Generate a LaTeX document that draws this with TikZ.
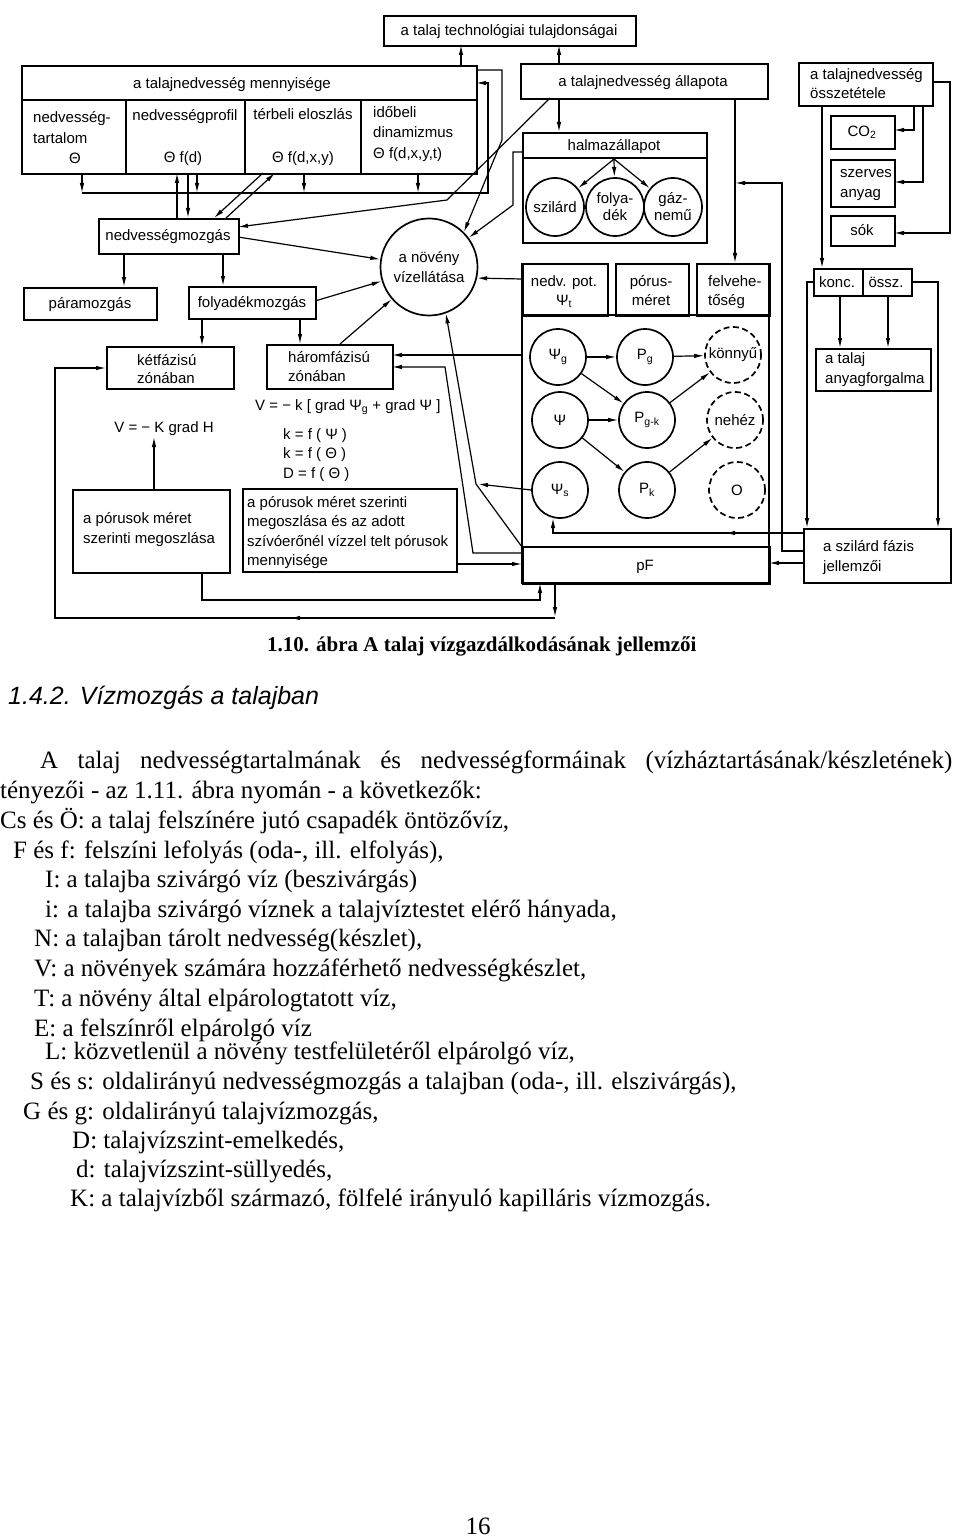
\documentclass[tikz,border=0pt]{standalone}
\usepackage{fontspec}
\setmainfont{Liberation Serif}
\newfontfamily\diagfont{Liberation Sans}
\usetikzlibrary{arrows.meta}
\newcommand\mybox[5]{\node[box, anchor=north west, minimum width={#4pt-#2pt}, minimum height={#5pt-#3pt}] (#1) at (#2,#3) {};}
\tikzset{
 box/.style={draw, line width=1.9pt, inner sep=0pt},
 bline/.style={line width=1.9pt},
 conn/.style={line width=1.2pt},
 arr/.style={conn, -{Latex[length=10pt,width=4.5pt]}},
 circ/.style={draw, circle, line width=1.7pt, inner sep=0pt, align=center, font=\diagfont\fontsize{15}{17}\selectfont},
 dcirc/.style={circ, dash pattern=on 6pt off 3.5pt},
 dt/.style={font=\diagfont\fontsize{15}{19}\selectfont, inner sep=0pt, anchor=mid, yshift=-3pt},
 dtl/.style={dt, anchor=mid west},
 bt/.style={font=\fontsize{25}{30}\selectfont, inner sep=0pt, anchor=mid west, yshift=-5pt},
}
\begin{document}
\begin{tikzpicture}[x=1pt,y=-1pt]
\useasboundingbox (0,0) rectangle (960,1538);
\fill[white] (0,0) rectangle (960,1538);

% ---------- boxes ----------
\mybox{tech}{383}{15}{635}{45}
\node[dt] (ttech) at (509,30) {a talaj technológiai tulajdonságai};

\mybox{menny}{21}{65}{476}{173}
\draw[bline] (21,100) -- (476,100) (126,100) -- (126,173) (245,100) -- (245,173) (361,100) -- (361,173);
\node[dt] (tmenny) at (232,83) {a talajnedvesség mennyisége};
\node[dtl] (tc1a) at (33,117) {nedvesség-};
\node[dtl] (tc1b) at (33,138) {tartalom};
\node[dt] (tc1c) at (75,158) {Θ};
\node[dt] (tc2a) at (185,115) {nedvességprofil};
\node[dt] (tc2b) at (183,157) {Θ f(d)};
\node[dt] (tc3a) at (303,114) {térbeli eloszlás};
\node[dt] (tc3b) at (303,157) {Θ f(d,x,y)};
\node[dtl] (tc4a) at (373,112) {időbeli};
\node[dtl] (tc4b) at (373,132) {dinamizmus};
\node[dtl] (tc4c) at (373,153) {Θ f(d,x,y,t)};

\mybox{allap}{520}{63}{767}{98}
\node[dt] (tallap) at (643,81) {a talajnedvesség állapota};

\mybox{halm}{522}{132}{706}{242}
\draw[bline] (522,158) -- (706,158);
\node[dt] (thalm) at (614,145) {halmazállapot};
\node[circ, minimum size=58pt] (szil) at (555,207) {szilárd};
\node[circ, minimum size=58pt] (foly) at (615,207) {folya-\\dék};
\node[circ, minimum size=58pt] (gaz) at (673,207) {gáz-\\nemű};

\mybox{ossz}{798}{62}{932}{105}
\node[dtl] (tossza) at (810,74) {a talajnedvesség};
\node[dtl] (tosszb) at (810,93) {összetétele};
\mybox{co2}{830}{115}{894}{148}
\node[dt] (tco2) at (862,131) {CO\textsubscript{2}};
\mybox{szerv}{830}{159}{894}{206}
\node[dtl] (tszerva) at (840,172) {szerves};
\node[dtl] (tszervb) at (840,192) {anyag};
\mybox{sok}{830}{215}{894}{245}
\node[dt] (tsok) at (862,230) {sók};

\mybox{nedvm}{98}{218}{238}{253}
\node[dt] (tnedvm) at (168,235) {nedvességmozgás};
\mybox{param}{23}{287}{156}{319}
\node[dt] (tparam) at (90,303) {páramozgás};
\mybox{folym}{188}{286}{315}{318}
\node[dt] (tfolym) at (252,302) {folyadékmozgás};
\mybox{ketf}{106}{346}{233}{388}
\node[dtl] (tketfa) at (137,360) {kétfázisú};
\node[dtl] (tketfb) at (137,378) {zónában};
\mybox{harom}{266}{344}{392}{388}
\node[dtl] (tharoma) at (288,357) {háromfázisú};
\node[dtl] (tharomb) at (288,376) {zónában};

\node[circ, minimum size=97pt, font=\diagfont\fontsize{15}{20}\selectfont] (noveny) at (429,267) {a növény\\vízellátása};

% big lower box
\draw[bline] (522,263) -- (522,583) -- (769,583) -- (769,263);
\draw[bline] (522,315) -- (769,315);
\mybox{nedvpot}{522}{263}{607}{315}
\node[dt] (tnedvpota) at (564,281) {nedv. pot.};
\node[dt] (tnedvpotb) at (564,300) {Ψ\textsubscript{t}};
\mybox{porus}{615}{263}{688}{315}
\node[dt] (tporusa) at (651,281) {pórus-};
\node[dt] (tporusb) at (651,300) {méret};
\mybox{felv}{696}{263}{769}{315}
\node[dtl] (tfelva) at (708,281) {felvehe-};
\node[dtl] (tfelvb) at (708,300) {tőség};
\mybox{pF}{522}{546}{769}{583}
\node[dt] (tpF) at (645,565) {pF};

\node[circ, minimum size=56pt] (psig) at (558,357) {Ψ\textsubscript{g}};
\node[circ, minimum size=56pt] (pg) at (645,357) {P\textsubscript{g}};
\node[dcirc, minimum size=56pt] (konnyu) at (733,355) {könnyű};
\node[circ, minimum size=56pt] (psi) at (560,420) {Ψ};
\node[circ, minimum size=56pt] (pgk) at (647,420) {P\textsubscript{g-k}};
\node[dcirc, minimum size=56pt] (nehez) at (735,420) {nehéz};
\node[circ, minimum size=56pt] (psis) at (560,490) {Ψ\textsubscript{s}};
\node[circ, minimum size=56pt] (pk) at (647,490) {P\textsubscript{k}};
\node[dcirc, minimum size=56pt] (oo) at (737,490) {O};

\mybox{konc}{813}{268}{862}{295}
\node[dt] (tkonc) at (837,282) {konc.};
\mybox{ossz2}{862}{268}{911}{295}
\node[dt] (tossz2) at (886,282) {össz.};
\mybox{anyag}{815}{348}{930}{390}
\node[dtl] (tanyaga) at (825,358) {a talaj};
\node[dtl] (tanyagb) at (825,378) {anyagforgalma};
\mybox{szilf}{803}{528}{950}{582}
\node[dtl] (tszilfa) at (823,546) {a szilárd fázis};
\node[dtl] (tszilfb) at (823,566) {jellemzői};

\mybox{porus1}{72}{489}{229}{572}
\node[dtl] (tp1a) at (83,518) {a pórusok méret};
\node[dtl] (tp1b) at (83,538) {szerinti megoszlása};
\mybox{porus2}{242}{488}{456}{571}
\node[dtl] (tp2a) at (247,502) {a pórusok méret szerinti};
\node[dtl] (tp2b) at (247,521) {megoszlása és az adott};
\node[dtl] (tp2c) at (247,541) {szívóerőnél vízzel telt pórusok};
\node[dtl] (tp2d) at (247,560) {mennyisége};

\node[dt] (tV1) at (164,427) {V = − K grad H};
\node[dtl] (tV2) at (255,405) {V = − k [ grad Ψ\textsubscript{g} + grad Ψ ]};
\node[dtl] (tk1) at (283,434) {k = f ( Ψ )};
\node[dtl] (tk2) at (283,453) {k = f ( Θ )};
\node[dtl] (tD) at (283,473) {D = f ( Θ )};

% ---------- connectors ----------
\draw[arr] (461,65) -- (461,45);
\draw[arr] (559,63) -- (559,45);
\draw[arr] (82,173) -- (82,193);
\draw[arr] (197,173) -- (197,193);
\draw[arr] (304,173) -- (304,193);
\draw[arr] (418,173) -- (418,193);
\draw[arr] (82,193) -- (488,193) -- (488,83) -- (476,83);
\draw[arr] (177,218) -- (177,173);
\draw[arr] (188,173) -- (188,218);
\draw[arr] (263,173) -- (214,218);
\draw[arr] (226,218) -- (275,173);
\draw[arr] (550,98) -- (447,200) -- (238,227);
\draw[arr] (476,70) -- (502,70) -- (502,140) -- (noveny.45);
\draw[arr] (522,152) -- (513,152) -- (513,205) -- (noveny);
\draw[arr] (238,237) -- (noveny);
\draw[arr] (315,301) -- (noveny);
\draw[arr] (340,344) -- (noveny);
\draw[arr] (522,279) -- (noveny.347);
\draw[arr] (522,355) -- (392,355);
\draw[arr] (522,553) -- (473,553) -- (445,367) -- (392,367);
\draw[arr] (522,547) -- (476,484) -- (noveny.290);
\draw[arr] (psis.west) -- (478,484);
\draw[arr] (456,564) -- (522,564);
\draw[arr] (202,572) -- (202,600) -- (540,600) -- (540,583);
\draw[arr] (555,583) -- (555,617);
\draw[arr] (555,618) -- (55,618) -- (55,368) -- (106,368);
\draw[arr] (300,618) -- (290,618);
\draw[arr] (154,489) -- (154,437);
\draw[arr] (803,533) -- (553,533) -- (553,518);
\draw[arr] (740,533) -- (725,533);
\draw[arr] (803,563) -- (769,563);
\draw[arr] (803,551) -- (782,551) -- (782,183) -- (735,183);
\draw[arr] (813,282) -- (807,282) -- (807,528);
\draw[arr] (911,282) -- (938,282) -- (938,528);
\draw[arr] (735,98) -- (735,263);
\draw[arr] (822,105) -- (822,268);
\draw[arr] (914,105) -- (914,130) -- (894,130);
\draw[arr] (923,105) -- (923,182) -- (894,182);
\draw[arr] (932,82) -- (950,82) -- (950,233) -- (894,233);
\draw[arr] (840,295) -- (840,348);
\draw[arr] (888,295) -- (888,348);
\draw[arr] (559,98) -- (559,132);
\draw[arr] (614,159) -- (szil);
\draw[arr] (614,159) -- (foly);
\draw[arr] (614,159) -- (gaz);
\draw[arr] (124,253) -- (124,287);
\draw[arr] (223,253) -- (223,286);
\draw[arr] (202,318) -- (202,346);
\draw[arr] (300,318) -- (300,344);
\draw[arr] (psig) -- (pg);
\draw[arr] (pg) -- (konnyu);
\draw[arr] (psig) -- (pgk);
\draw[arr] (psi) -- (pgk);
\draw[arr] (psi) -- (pk);
\draw[arr] (pgk) -- (konnyu);
\draw[arr] (pk) -- (nehez);

% ---------- text below ----------
\node[font=\fontsize{21}{25}\selectfont\bfseries, inner sep=0pt, anchor=mid west, yshift=-4pt] (caption) at (267,645) {1.10. ábra A talaj vízgazdálkodásának jellemzői};
\node[font=\diagfont\fontsize{25}{30}\selectfont\itshape, inner sep=0pt, anchor=mid west, yshift=-5pt] (heading) at (8,697) {1.4.2. Vízmozgás a talajban};
\node[bt] (l1) at (40,761) {\makebox[912pt][s]{A talaj nedvességtartalmának és nedvességformáinak (vízháztartásának/készletének)}};
\node[bt] (l2) at (0,791) {tényezői - az 1.11. ábra nyomán - a következők:};
\node[bt] (l3) at (0,821) {Cs és Ö: a talaj felszínére jutó csapadék öntözővíz,};
\node[bt] (l4) at (13,851) {F és f: felszíni lefolyás (oda-, ill. elfolyás),};
\node[bt] (l5) at (45,880) {I: a talajba szivárgó víz (beszivárgás)};
\node[bt] (l6) at (45,910) {i: a talajba szivárgó víznek a talajvíztestet elérő hányada,};
\node[bt] (l7) at (34,939) {N: a talajban tárolt nedvesség(készlet),};
\node[bt] (l8) at (34,969) {V: a növények számára hozzáférhető nedvességkészlet,};
\node[bt] (l9) at (34,999) {T: a növény által elpárologtatott víz,};
\node[bt] (l10) at (34,1029) {E: a felszínről elpárolgó víz};
\node[bt] (l11) at (45,1052) {L: közvetlenül a növény testfelületéről elpárolgó víz,};
\node[bt] (l12) at (30,1082) {S és s: oldalirányú nedvességmozgás a talajban (oda-, ill. elszivárgás),};
\node[bt] (l13) at (23,1112) {G és g: oldalirányú talajvízmozgás,};
\node[bt] (l14) at (72,1141) {D: talajvízszint-emelkedés,};
\node[bt] (l15) at (76,1170) {d: talajvízszint-süllyedés,};
\node[bt] (l16) at (70,1199) {K: a talajvízből származó, fölfelé irányuló kapilláris vízmozgás.};
\node[bt, anchor=mid] (page) at (478,1527) {16};
\end{tikzpicture}
\end{document}
